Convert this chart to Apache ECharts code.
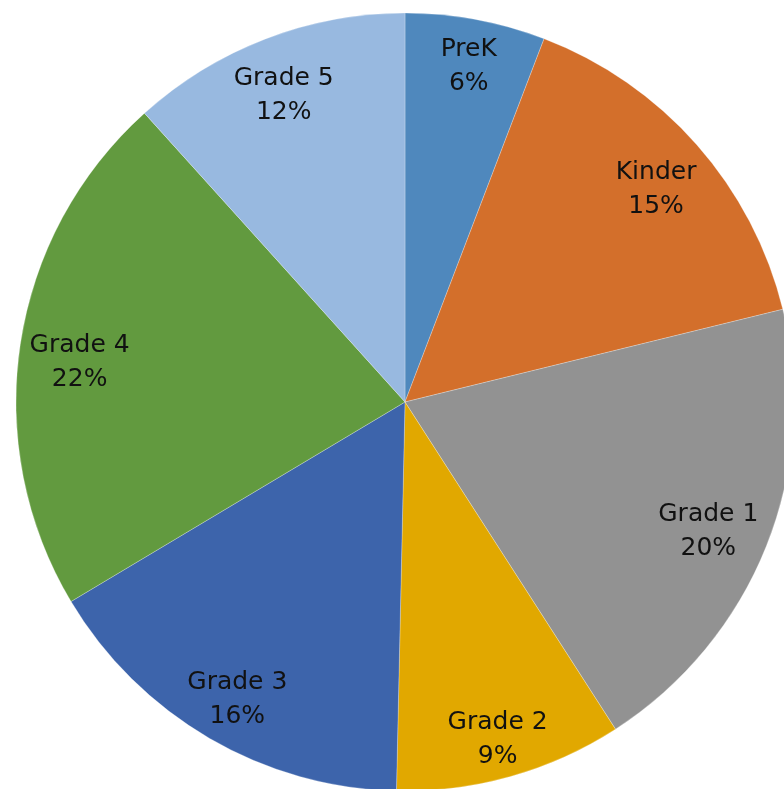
<!DOCTYPE html>
<html>
<head>
<meta charset="utf-8">
<script src="https://cdn.jsdelivr.net/npm/echarts@6/dist/echarts.min.js"></script>
<style>
html,body{margin:0;padding:0;background:#fff;}
#one{width:784px;height:789px;}
</style>
</head>
<body>
<div id="one"></div>
<script>
// grade levels and their share of enrolment
var grades = ['PreK', 'Kinder', 'Grade 1', 'Grade 2', 'Grade 3', 'Grade 4', 'Grade 5'];
var shares = [5.82, 15.35, 19.73, 9.45, 16.08, 21.89, 11.68];
var sliceColors = ['#4f88bd', '#d36f2b', '#929292', '#e1a800', '#3d64ab', '#629a3f', '#98b9e0'];

var cx = 405, cy = 402, R = 389;
var pad = 6;        // gap between label box and rim
var halfH = 27;     // half height of the two text lines
var shiftY = 9;

var myChart = echarts.init(document.getElementById('one'));

myChart.setOption({
	animation: false,
	backgroundColor: '#fff',
	series: [
		{
			type: 'pie',
			center: [cx, cy],
			radius: [0, R],
			startAngle: 90,
			clockwise: true,
			percentPrecision: 0,
			data: grades.map(function (g, i) {
				return { name: g, value: shares[i], itemStyle: { color: sliceColors[i] } };
			}),
			itemStyle: { borderColor: 'rgba(255,255,255,0.5)', borderWidth: 0.5 },
			label: {
				show: true,
				position: 'inside',
				formatter: '{b}\n{d}%',
				color: '#111',
				fontFamily: 'DejaVu Sans',
				fontSize: 25,
				lineHeight: 34
			},
			// push every label out along its slice until the box touches the rim (like "inside end")
			labelLayout: function (p) {
				var r = p.labelRect;
				var mx = r.x + r.width / 2 - cx, my = r.y + r.height / 2 - cy;
				var len = Math.sqrt(mx * mx + my * my) || 1;
				var ux = mx / len, uy = my / len;
				var hw = r.width / 2;
				var b = Math.abs(ux) * hw + Math.abs(uy) * halfH;
				var lim = R - pad;
				var d = -b + Math.sqrt(b * b - hw * hw - halfH * halfH + lim * lim);
				return { x: cx + ux * d, y: cy + uy * d + shiftY, align: 'center', verticalAlign: 'middle' };
			},
			labelLine: { show: false },
			emphasis: { disabled: true }
		}
	]
});
</script>
</body>
</html>
